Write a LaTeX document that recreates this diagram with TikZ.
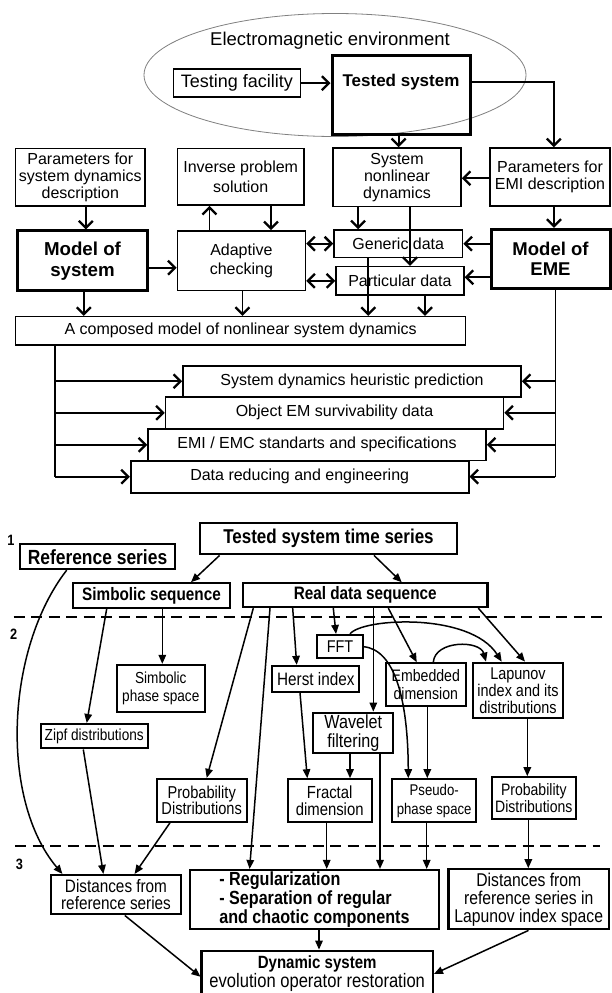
\documentclass[tikz,border=0pt]{standalone}
\usepackage{fontspec}
\setmainfont{Liberation Sans}
\newfontfamily\scanfont[FakeStretch=0.85]{Liberation Sans}
\usetikzlibrary{arrows.meta,shapes.geometric}
\definecolor{envGray}{HTML}{808080}
\newcommand{\fsz}[2]{\fontsize{#1pt}{#2pt}\selectfont}
\tikzset{
	blk/.style={
		draw,
		line width=1.6pt,
		align=center,
		inner sep=0pt,
		font=\fsz{16}{17}
	},
	thickBlk/.style={
		blk,
		line width=3pt,
		font=\bfseries\fsz{18.7}{21}
	},
	lowBlk/.style={
		draw,
		line width=2.2pt,
		align=center,
		inner sep=0pt,
		font=\scanfont\fsz{17}{17.3}
	},
	lowHead/.style={
		lowBlk,
		font=\scanfont\bfseries\fsz{18}{20}
	},
	flecha/.style={
		-{Straight Barb[length=7pt,width=14pt,line width=2.3pt]},
		line width=1.8pt
	},
	flechaDoble/.style={
		{Straight Barb[length=7pt,width=14pt,line width=2.3pt]}-{Straight Barb[length=7pt,width=14pt,line width=2.3pt]},
		line width=1.8pt
	},
	linea/.style={
		line width=1.8pt
	},
	flechaBaja/.style={
		-{Triangle[length=9pt,width=7.5pt]},
		line width=1.5pt
	},
	divisor/.style={
		line width=2pt,
		dash pattern=on 11pt off 6.5pt
	},
	nivel/.style={
		font=\scanfont\bfseries\fsz{15}{15}
	}
}
\begin{document}
\begin{tikzpicture}[x=1pt,y=-1pt]
		\fill[white] (0,0) rectangle (611,993);
		\useasboundingbox (0,0) rectangle (611,993);
		% test set-up in its environment
		\node[draw=envGray, line width=0.8pt, ellipse, minimum width=382pt, minimum height=123pt, inner sep=0pt] (env) at (335,75) {};
		\node[font=\fsz{18.5}{20}] (envLabel) at (330,41) {Electromagnetic environment};
		\node[blk, minimum width=127pt, minimum height=28pt, font=\fsz{18}{20}] (testing) at (236.9,83.2) {Testing facility};
		\node[blk, line width=3pt, anchor=north, minimum width=138pt, text height=31pt, text depth=47.6pt, font=\bfseries\fsz{17}{20}] (tested) at (401,54) {Tested system};
		\draw[flecha] (testing.east) -- (testing.east -| tested.west);
		% models
		\node[blk, minimum width=129.4pt, minimum height=57.7pt] (sysParams) at (80.3,177.2) {Parameters for\\system dynamics\\description};
		\node[blk, minimum width=126.6pt, minimum height=56.7pt, font=\fsz{16}{20}] (inverse) at (240.7,176.7) {Inverse problem\\solution};
		\node[blk, minimum width=128pt, minimum height=58.7pt] (nonlinear) at (397,177.3) {System\\nonlinear\\dynamics};
		\node[blk, minimum width=120pt, minimum height=58pt] (emiParams) at (550,177) {Parameters for\\EMI description};
		\node[thickBlk, minimum width=130pt, minimum height=59.7pt] (sysModel) at (82.5,260.8) {Model of\\system};
		\node[blk, minimum width=128pt, minimum height=59.7pt, font=\fsz{16}{18.3}] (adaptive) at (241.4,260.8) {Adaptive\\checking};
		\node[blk, minimum width=128.6pt, minimum height=27.3pt] (generic) at (398.3,243.7) {Generic data};
		\node[blk, minimum width=127.8pt, minimum height=28.3pt] (particular) at (399.9,280.8) {Particular data};
		\node[thickBlk, minimum width=119pt, minimum height=59pt, font=\bfseries\fsz{18.5}{20}] (emeModel) at (550.5,258.8) {Model of\\EME};
		\node[blk, minimum width=450pt, minimum height=28.3pt] (composed) at (240.6,330.8) {A composed model of nonlinear system dynamics};
		\node[blk, minimum width=338pt, minimum height=31pt] (heuristic) at (352,381.2) {System dynamics heuristic prediction};
		\node[blk, minimum width=338pt, minimum height=32pt] (survival) at (334.5,412.8) {Object EM survivability data};
		\node[blk, minimum width=338pt, minimum height=31.7pt] (standards) at (317,444.8) {EMI / EMC standarts and specifications};
		\node[blk, minimum width=338pt, minimum height=32pt] (reducing) at (299.7,476.7) {Data reducing and engineering};
		\draw[flecha] (398.6,0 |- tested.south) -- (398.6,0 |- nonlinear.north);
		\draw[flecha] (tested.east |- 0,82.3) -| (553.8,0 |- emiParams.north);
		\draw[flecha] (emiParams.west |- 0,178.3) -- (nonlinear.east |- 0,178.3);
		\draw[flecha] (85.8,0 |- sysParams.south) -- (85.8,0 |- sysModel.north);
		\draw[flecha] (209.4,0 |- adaptive.north) -- (209.4,0 |- inverse.south);
		\draw[flecha] (271,0 |- inverse.south) -- (271,0 |- adaptive.north);
		\draw[flecha] (sysModel.east |- 0,267.7) -- (adaptive.west |- 0,267.7);
		\draw[flecha] (358,0 |- nonlinear.south) -- (358,0 |- generic.north);
		\draw[flecha] (410,0 |- nonlinear.south) -- (410,0 |- particular.north);
		\draw[flechaDoble] (adaptive.east |- generic.west) -- (generic.west);
		\draw[flechaDoble] (adaptive.east |- particular.west) -- (particular.west);
		\draw[flecha] (554,0 |- emiParams.south) -- (554,0 |- emeModel.north);
		\draw[flecha] (emeModel.west |- generic.east) -- (generic.east);
		\draw[flecha] (emeModel.west |- 0,277.3) -- (particular.east |- 0,277.3);
		\draw[flecha] (83.8,0 |- sysModel.south) -- (83.8,0 |- composed.north);
		\draw[flecha] (242.4,0 |- adaptive.south) -- (242.4,0 |- composed.north);
		\draw[flecha] (368.3,0 |- generic.south) -- (368.3,0 |- composed.north);
		\draw[flecha] (425,0 |- particular.south) -- (425,0 |- composed.north);
		% outputs
		\draw[linea] (555.4,0 |- emeModel.south) -- (555.4,0 |- reducing.east);
		\draw[linea] (55.3,0 |- composed.south) -- (55.3,0 |- reducing.west);
		\foreach \salida in {heuristic,survival,standards,reducing}{
			\draw[flecha] (55.3,0 |- \salida.west) -- (\salida.west);
			\draw[flecha] (555.4,0 |- \salida.east) -- (\salida.east);
		}
		% time series processing, levels 1-3
		\node[nivel] (lvlOne) at (11,540) {1};
		\node[nivel] (lvlTwo) at (13.6,634) {2};
		\node[nivel] (lvlThree) at (19.5,864.3) {3};
		\node[lowHead, minimum width=257pt, minimum height=31pt, font=\scanfont\bfseries\fsz{20}{22}] (series) at (328.5,538.8) {Tested system time series};
		\node[lowHead, minimum width=154.3pt, minimum height=24.7pt, font=\scanfont\bfseries\fsz{20.5}{22}] (reference) at (97.5,556.7) {Reference series};
		\node[lowHead, minimum width=157pt, minimum height=24.4pt] (symbolic) at (151.5,595.5) {Simbolic sequence};
		\node[lowHead, minimum width=244.7pt, minimum height=23.7pt] (realData) at (365.2,595.2) {Real data sequence};
		\draw[divisor] (13.7,617.3) -- (606,617.3);
		\node[lowBlk, minimum width=45.4pt, minimum height=23.3pt] (fft) at (340,646.7) {FFT};
		\node[lowBlk, minimum width=87pt, minimum height=25.7pt, font=\scanfont\fsz{18}{18}] (herst) at (315.8,678.8) {Herst index};
		\node[lowBlk, minimum width=79.7pt, minimum height=42.4pt, font=\scanfont\fsz{16.6}{17.3}] (embedded) at (425.8,684.5) {Embedded\\dimension};
		\node[lowBlk, minimum width=90.6pt, minimum height=55.6pt, font=\scanfont\fsz{17}{17}] (lapunov) at (518,690.5) {Lapunov\\index and its\\distributions};
		\node[lowBlk, minimum width=88.3pt, minimum height=46.7pt, font=\scanfont\fsz{16}{18}] (symPhase) at (160.8,688.3) {Simbolic\\phase space};
		\node[lowBlk, minimum width=107pt, minimum height=24.3pt, font=\scanfont\fsz{16}{17}] (zipf) at (94.2,736.2) {Zipf distributions};
		\node[lowBlk, minimum width=80pt, minimum height=40.6pt, font=\scanfont\fsz{19}{18.3}] (wavelet) at (353.3,733) {Wavelet\\filtering};
		\node[lowBlk, minimum width=90pt, minimum height=42.7pt, font=\scanfont\fsz{17.2}{16.7}] (probLeft) at (201.7,800.3) {Probability\\Distributions};
		\node[lowBlk, minimum width=84pt, minimum height=42.4pt, font=\scanfont\fsz{17.5}{17.3}] (fractal) at (329.7,800.5) {Fractal\\dimension};
		\node[lowBlk, minimum width=83.7pt, minimum height=42.4pt, font=\scanfont\fsz{15.5}{19}] (pseudo) at (434.2,800.5) {Pseudo-\\phase space};
		\node[lowBlk, minimum width=84.3pt, minimum height=42pt, font=\scanfont\fsz{16.5}{17}] (probRight) at (533.8,798.3) {Probability\\Distributions};
		\draw[divisor] (15,845.5) -- (600,845.5);
		\node[lowBlk, minimum width=130.7pt, minimum height=39.3pt, font=\scanfont\fsz{18}{17.3}] (distRef) at (116,894.7) {Distances from\\reference series};
		\node[lowBlk, align=left, minimum width=248.8pt, minimum height=59.3pt, font=\scanfont\bfseries\fsz{19}{19}] (regular) at (314.4,899.7) {- Regularization\\- Separation of regular\\and chaotic components};
		\node[lowBlk, minimum width=160.5pt, minimum height=60pt, font=\scanfont\fsz{18.5}{18}] (distLap) at (528.8,899.3) {Distances from\\reference series in\\Lapunov index space};
		\node[lowBlk, minimum width=231.3pt, minimum height=45.4pt, font=\scanfont\fsz{19.5}{17.3}] (restore) at (317.2,973.4) {\textbf{\fsz{17.7}{17.3}Dynamic system}\\evolution operator restoration};
		\draw[flechaBaja] (219.6,0 |- series.south) -- (191,0 |- symbolic.north);
		\draw[flechaBaja] (374,0 |- series.south) -- (401.7,0 |- realData.north);
		\draw[flechaBaja] (66.7,0 |- reference.south) .. controls (5,650) and (0,800) .. (62.4,0 |- distRef.north);
		\draw[flechaBaja] (106.7,0 |- symbolic.south) -- (86.7,0 |- zipf.north);
		\draw[flechaBaja] (162.3,0 |- symbolic.south) -- (162.3,0 |- symPhase.north);
		\draw[flechaBaja] (253.3,0 |- realData.south) -- (206.7,0 |- probLeft.north);
		\draw[flechaBaja] (270,0 |- realData.south) -- (249.6,0 |- regular.north);
		\draw[flechaBaja] (292.7,0 |- realData.south) -- (296.7,0 |- herst.north);
		\draw[flechaBaja] (333.3,0 |- realData.south) -- (336,0 |- fft.north);
		\draw[flechaBaja] (373.3,0 |- realData.south) -- (373.3,0 |- wavelet.north);
		\draw[flechaBaja] (388.3,0 |- realData.south) -- (416.7,0 |- embedded.north);
		\draw[flechaBaja] (478.3,0 |- realData.south) -- (525,0 |- lapunov.north);
		\draw[flechaBaja] (350,0 |- fft.north) .. controls (362,618) and (470,612) .. (501.7,0 |- lapunov.north);
		\draw[flechaBaja] (433.3,0 |- embedded.north) .. controls (435,640) and (480,640) .. (486,0 |- lapunov.north);
		\draw[flechaBaja] (fft.east) .. controls (395,650) and (408,700) .. (408.3,0 |- pseudo.north);
		\draw[flechaBaja] (300,0 |- herst.south) -- (307.3,0 |- fractal.north);
		\draw[flechaBaja] (350,0 |- wavelet.south) -- (350,0 |- fractal.north);
		\draw[flechaBaja] (380,0 |- wavelet.south) -- (380,0 |- regular.north);
		\draw[flechaBaja] (427.3,0 |- embedded.south) -- (427.3,0 |- pseudo.north);
		\draw[flechaBaja] (527.3,0 |- lapunov.south) -- (527.3,0 |- probRight.north);
		\draw[flechaBaja] (83.3,0 |- zipf.south) -- (103.4,0 |- distRef.north);
		\draw[flechaBaja] (170,0 |- probLeft.south) -- (134.6,0 |- distRef.north);
		\draw[flechaBaja] (326.7,0 |- fractal.south) -- (326.7,0 |- regular.north);
		\draw[flechaBaja] (426.7,0 |- pseudo.south) -- (426.7,0 |- regular.north);
		\draw[flechaBaja] (528.3,0 |- probRight.south) -- (528.3,0 |- distLap.north);
		\draw[flechaBaja] (319,0 |- regular.south) -- (319,0 |- restore.north);
		\draw[flechaBaja] (124.8,0 |- distRef.south) -- (restore.west |- 0,976.7);
		\draw[flechaBaja] (528.5,0 |- distLap.south) -- (restore.east |- 0,974);
	\end{tikzpicture}
\end{document}
